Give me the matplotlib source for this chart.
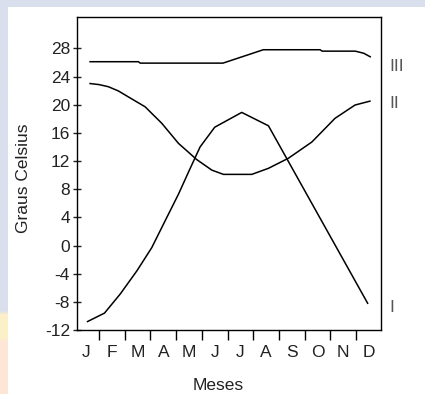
import numpy as np
import matplotlib
matplotlib.use('Agg')
import matplotlib.pyplot as plt

plt.rcParams['font.family'] = ['Liberation Sans', 'DejaVu Sans']

# month labels, centred in each month band (band i spans i..i+1)
months = ['J', 'F', 'M', 'A', 'M', 'J', 'J', 'A', 'S', 'O', 'N', 'D']

# values: x in month units, y in degrees Celsius
c1_x = [0.55, 1.21, 1.82, 2.47, 3.05, 3.5, 4.09, 4.5, 4.93, 5.5, 6.55, 7.59, 11.45]
c1_y = [-10.8, -9.6, -6.9, -3.6, -0.3, 3.0, 7.3, 10.6, 14.0, 16.8, 18.9, 17.0, -8.2]

c2_x = [0.65, 1.0, 1.36, 1.75, 2.14, 2.79, 3.44, 4.09, 4.8, 5.39, 5.84, 6.94,
        7.59, 8.37, 9.28, 10.18, 10.96, 11.54]
c2_y = [23.0, 22.85, 22.55, 21.95, 21.1, 19.7, 17.35, 14.5, 12.2, 10.7, 10.1, 10.1,
        10.96, 12.4, 14.7, 18.06, 19.95, 20.5]

c3_x = [0.65, 2.53, 2.6, 5.82, 7.39, 9.6, 9.68, 10.97, 11.3, 11.55]
c3_y = [26.1, 26.1, 25.9, 25.9, 27.8, 27.8, 27.6, 27.6, 27.3, 26.8]

labels = ['I', 'II', 'III']
label_y = [-8.8, 20.2, 25.4]

yticks = [-12, -8, -4, 0, 4, 8, 12, 16, 20, 24, 28]

W, H = 425, 394
fig = plt.figure(figsize=(W / 100, H / 100), dpi=100)
fig.patch.set_facecolor('#dadfee')

# white page with the bluish/peach strip on the left
bg = fig.add_axes([7 / W, 0, 1 - 7 / W, 1 - 7 / H], zorder=0)
bg.axis('off')
bg.add_patch(plt.Rectangle((0, 0), 1, 1, transform=bg.transAxes,
                           facecolor='white', edgecolor='none'))
strip = fig.add_axes([0, 0, 7 / W, 1 - 7 / H], zorder=0)
grad = np.ones((100, 1, 3))
top_c = np.array([218, 223, 238]) / 255
mid_c = np.array([252, 240, 200]) / 255
bot_c = np.array([253, 230, 214]) / 255
for i in range(100):
    t = i / 99  # 0 at top
    if t < 0.79:
        grad[i, 0] = top_c
    elif t < 0.86:
        grad[i, 0] = mid_c
    else:
        grad[i, 0] = bot_c
strip.imshow(grad, aspect='auto', interpolation='bilinear')
strip.axis('off')

ax = fig.add_axes([77 / W, 1 - 330 / H, (381 - 77) / W, (330 - 17) / H], zorder=2)
ax.set_facecolor('white')

for xs, ys in [(c1_x, c1_y), (c2_x, c2_y), (c3_x, c3_y)]:
    ax.plot(xs, ys, color='black', lw=1.1)

ax.set_xlim(0.14, 11.97)
ax.set_ylim(-12, 32.45)

ax.set_yticks(yticks)
ax.set_yticklabels([str(v) for v in yticks])
ax.tick_params(axis='y', direction='inout', length=6, width=1.0, pad=2,
               labelsize=12.5, colors='#222222')

ax.set_xticks(np.arange(12) + 0.5)
ax.set_xticklabels(months)
ax.set_xticks(np.arange(1, 12), minor=True)
ax.tick_params(axis='x', which='major', length=0, pad=11, labelsize=12.5, colors='#222222')
ax.tick_params(axis='x', which='minor', direction='out', length=7, width=1.0)

for sp in ax.spines.values():
    sp.set_linewidth(1.0)
    sp.set_color('black')

for lab, yv in zip(labels, label_y):
    ax.text(12.3, yv, lab, ha='left', va='center', fontsize=12.5,
            color='#555555', clip_on=False)

fig.text(23.5 / W, 1 - 178 / H, 'Graus Celsius', rotation=90, ha='center', va='center',
         fontsize=12.5, color='#222222')
fig.text(218 / W, 1 - 385 / H, 'Meses', ha='center', va='center',
         fontsize=12.5, color='#222222')

fig.savefig('out.png', dpi=100, facecolor=fig.get_facecolor())
